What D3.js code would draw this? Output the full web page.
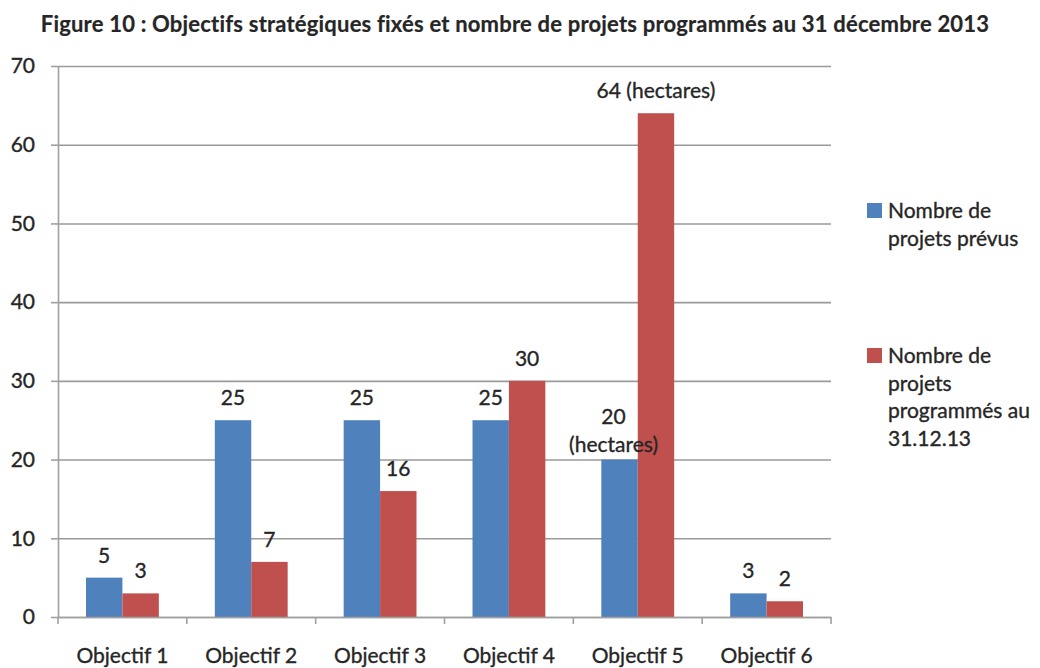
<!DOCTYPE html>
<html>
<head>
<meta charset="utf-8">
<script src="https://cdn.jsdelivr.net/npm/d3@7"></script>
<style>
  body { margin: 0; background: #fff; }
  text { font-family: Lato, "Open Sans", sans-serif; fill: #262626; stroke: #262626; stroke-width: 0.35px; }
  .grid line { stroke: #9a9a9a; stroke-width: 1.6; }
  .grid .domain { display: none; }
  .axis .domain, .axis line { stroke: #a0a0a0; stroke-width: 1.6; }
</style>
</head>
<body>
<div id="chart"></div>
<script>
// data
var categories = ["Objectif 1", "Objectif 2", "Objectif 3", "Objectif 4", "Objectif 5", "Objectif 6"];
var prevus = [5, 25, 25, 25, 20, 3];
var programmes = [3, 7, 16, 30, 64, 2];
var prevusLabels = ["5", "25", "25", "25", "20\n(hectares)", "3"];
var programmesLabels = ["3", "7", "16", "30", "64 (hectares)", "2"];
var seriesNames = [["Nombre de", "projets prévus"], ["Nombre de", "projets", "programmés au", "31.12.13"]];
var yTicks = [0, 10, 20, 30, 40, 50, 60, 70];
var colors = ["#4f81bd", "#c0504d"];

var margin = { top: 66, right: 209, bottom: 51, left: 58 };
var width = 1040 - margin.left - margin.right,
    height = 668 - margin.top - margin.bottom;

var svg = d3.select("#chart").append("svg")
    .attr("width", 1040)
    .attr("height", 668);

svg.append("text")
    .attr("x", 515)
    .attr("y", 32)
    .attr("text-anchor", "middle")
    .style("font-weight", "bold")
    .style("font-size", "22px")
    .style("letter-spacing", "0.2px")
    .style("stroke-width", "0.2px")
    .text("Figure 10 : Objectifs stratégiques fixés et nombre de projets programmés au 31 décembre 2013");

var g = svg.append("g")
    .attr("transform", "translate(" + margin.left + "," + margin.top + ")");

// scales
var x0 = d3.scaleBand().domain(categories).range([0, width]).padding(0);
var x1 = d3.scaleBand().domain([0, 1]).range([28, x0.bandwidth() - 28]);
var y = d3.scaleLinear().domain([0, 70]).range([height, 0]);

// gridlines
g.append("g")
    .attr("class", "grid")
    .call(d3.axisLeft(y).tickValues(yTicks).tickSize(-width).tickFormat(""));

// bars
var rows = categories.map(function(c, i) {
    return [{ cat: c, s: 0, v: prevus[i], lab: prevusLabels[i] },
            { cat: c, s: 1, v: programmes[i], lab: programmesLabels[i] }];
});

var groups = g.selectAll(".grp")
    .data(rows)
    .enter().append("g")
    .attr("class", "grp")
    .attr("transform", function(d) { return "translate(" + x0(d[0].cat) + ",0)"; });

groups.selectAll("rect")
    .data(function(d) { return d; })
    .enter().append("rect")
    .attr("x", function(d) { return x1(d.s); })
    .attr("width", x1.bandwidth())
    .attr("y", function(d) { return y(d.v); })
    .attr("height", function(d) { return height - y(d.v); })
    .style("fill", function(d) { return colors[d.s]; });

// axes
var yAxis = g.append("g")
    .attr("class", "axis")
    .call(d3.axisLeft(y).tickValues(yTicks).tickSize(7).tickPadding(16).tickSizeOuter(0));
yAxis.selectAll("text").style("font-size", "21px").attr("fill", null);

var xAxis = g.append("g")
    .attr("class", "axis")
    .attr("transform", "translate(0," + height + ")")
    .call(d3.axisBottom(x0).tickSize(0).tickPadding(31).tickSizeOuter(0));
xAxis.selectAll("text").style("font-size", "21px").attr("fill", null).attr("dy", "0.71em");

// tick marks at band boundaries
var bounds = categories.map(function(c) { return x0(c); }).concat([width]);
xAxis.selectAll(".bound")
    .data(bounds)
    .enter().append("line")
    .attr("class", "bound")
    .attr("x1", function(d) { return d; })
    .attr("x2", function(d) { return d; })
    .attr("y1", 0)
    .attr("y2", 7);

// value labels
groups.selectAll(".val")
    .data(function(d) { return d; })
    .enter().append("text")
    .attr("class", "val")
    .attr("text-anchor", "middle")
    .style("font-size", "21px")
    .each(function(d) {
        var lines = d.lab.split("\n");
        var t = d3.select(this);
        var cx = x1(d.s) + x1.bandwidth() / 2 + (lines.length > 1 ? -6 : 0);
        var base = y(d.v) - (lines.length > 1 ? 8 : 15);
        lines.forEach(function(l, k) {
            t.append("tspan")
                .attr("x", cx)
                .attr("y", base - (lines.length - 1 - k) * 28)
                .text(l);
        });
    });

// legend
var legendTop = [203, 348];
var legend = svg.selectAll(".legend")
    .data(seriesNames)
    .enter().append("g")
    .attr("class", "legend")
    .attr("transform", function(d, i) { return "translate(867," + legendTop[i] + ")"; });

legend.append("rect")
    .attr("x", 0)
    .attr("y", 0)
    .attr("width", 15)
    .attr("height", 15)
    .style("fill", function(d, i) { return colors[i]; });

legend.append("text")
    .style("font-size", "21px")
    .each(function(d) {
        var t = d3.select(this);
        d.forEach(function(l, k) {
            t.append("tspan")
                .attr("x", 21)
                .attr("y", 15 + k * 27.5)
                .text(l);
        });
    });
</script>
</body>
</html>
